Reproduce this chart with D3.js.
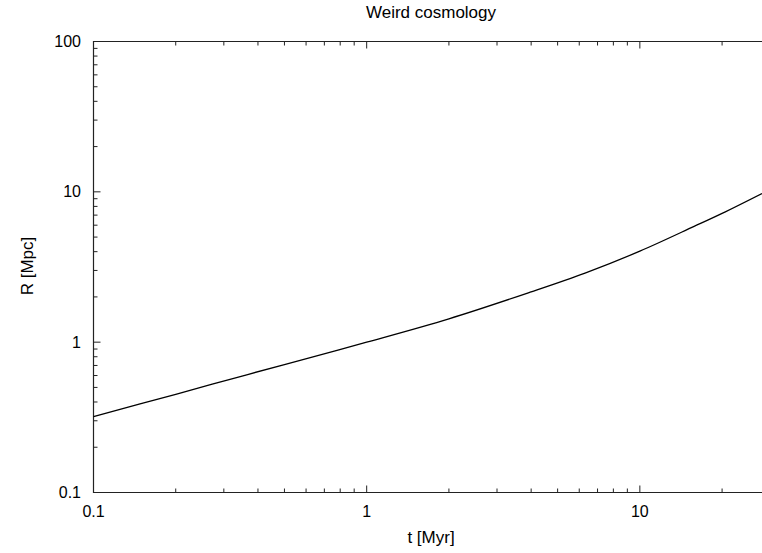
<!DOCTYPE html>
<html>
<head>
<meta charset="utf-8">
<title>Weird cosmology</title>
<script src="https://d3js.org/d3.v7.min.js"></script>
<style>
  body { margin:0; background:#fff; }
  svg { font-family: "Liberation Sans", Arial, sans-serif; }
</style>
</head>
<body>
<div id="chart"></div>
<script>
// values
const tVals = [0.1, 0.2, 0.316, 0.5, 1, 2, 4, 6.3, 10, 15.8, 20, 28];
const rVals = [0.32, 0.45, 0.566, 0.71, 1.0, 1.43, 2.16, 2.88, 4.03, 5.89, 7.19, 9.75];
const xTicks = [0.1, 1, 10];
const yTicks = [0.1, 1, 10, 100];

const width = 762, height = 553;
const m = {left: 93.5, top: 41.5, right: 762, bottom: 492.5};

const svg = d3.select("#chart").append("svg").attr("width", width).attr("height", height);

const x = d3.scaleLog().domain([0.1, 28]).range([m.left, m.right]);
const y = d3.scaleLog().domain([0.1, 100]).range([m.bottom, m.top]);

// minor ticks 2..9 in each decade
function minors(lo, hi) {
  const out = [];
  for (let d = lo; d < hi; d *= 10)
    for (let k = 2; k <= 9; k++) out.push(d * k);
  return out;
}
const xMinor = minors(0.1, 100).filter(v => v < 28);
const yMinor = minors(0.1, 100);

const tickColor = "#222";
// bottom and top ticks (inward)
[[m.bottom, -1], [m.top, 1]].forEach(([yy, dir]) => {
  svg.append("g").selectAll("line").data(xMinor).join("line")
    .attr("x1", d => x(d)).attr("x2", d => x(d))
    .attr("y1", yy).attr("y2", yy + dir * 4)
    .attr("stroke", tickColor).attr("stroke-width", 1);
  svg.append("g").selectAll("line").data(xTicks).join("line")
    .attr("x1", d => x(d)).attr("x2", d => x(d))
    .attr("y1", yy).attr("y2", yy + dir * 7)
    .attr("stroke", tickColor).attr("stroke-width", 1);
});
// left ticks
svg.append("g").selectAll("line").data(yMinor).join("line")
  .attr("x1", m.left).attr("x2", m.left + 4)
  .attr("y1", d => y(d)).attr("y2", d => y(d))
  .attr("stroke", tickColor).attr("stroke-width", 1);
svg.append("g").selectAll("line").data(yTicks).join("line")
  .attr("x1", m.left).attr("x2", m.left + 7)
  .attr("y1", d => y(d)).attr("y2", d => y(d))
  .attr("stroke", tickColor).attr("stroke-width", 1);

// frame (left, top, bottom)
svg.append("path")
  .attr("d", `M${m.right},${m.top}H${m.left}V${m.bottom}H${m.right}`)
  .attr("fill", "none").attr("stroke", tickColor).attr("stroke-width", 1.2);

// tick labels
svg.append("g").selectAll("text").data(xTicks).join("text")
  .attr("x", d => x(d)).attr("y", 517)
  .attr("text-anchor", "middle").attr("font-size", 16)
  .text(d => d);
svg.append("g").selectAll("text").data(yTicks).join("text")
  .attr("x", 81).attr("y", d => y(d)).attr("dy", "0.35em")
  .attr("text-anchor", "end").attr("font-size", 16)
  .text(d => d);

// curve
const line = d3.line().x((d, i) => x(tVals[i])).y(d => y(d)).curve(d3.curveCatmullRom.alpha(0.5));
svg.append("path").datum(rVals)
  .attr("fill", "none").attr("stroke", "#000").attr("stroke-width", 1.3)
  .attr("d", line);

// titles
svg.append("text").attr("x", 431).attr("y", 18).attr("text-anchor", "middle")
  .attr("font-size", 17).text("Weird cosmology");
svg.append("text").attr("x", 431).attr("y", 543).attr("text-anchor", "middle")
  .attr("font-size", 17).text("t [Myr]");
svg.append("text").attr("transform", "translate(33,266) rotate(-90)")
  .attr("text-anchor", "middle").attr("font-size", 17).text("R [Mpc]");
</script>
</body>
</html>
